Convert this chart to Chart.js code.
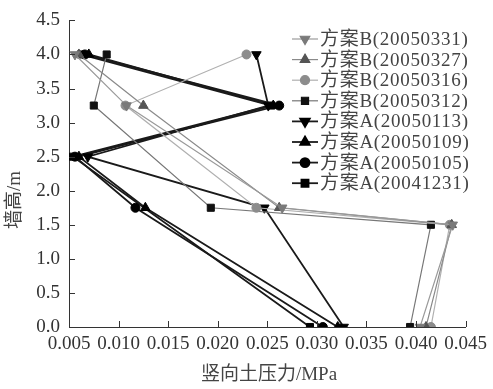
<!DOCTYPE html>
<html>
<head>
<meta charset="utf-8">
<script src="https://cdn.jsdelivr.net/npm/chart.js@4.4.0/dist/chart.umd.min.js"></script>
<style>
  html,body{margin:0;padding:0;background:#fff;}
  #wrap{width:493px;height:389px;position:relative;}
</style>
</head>
<body>
<div id="wrap"><canvas id="c" width="493" height="389"></canvas></div>
<script>
// heights (m) at which each series was measured
const heightsB = [4.0, 3.25, 1.75, 1.5, 0];
const heightsA = [4.0, 3.25, 2.5, 1.75, 0];
const heightsA1231 = [4.0, 3.25, 2.5, 0];

// vertical earth pressure (MPa)
const pB0331 = [0.0056, 0.0108, 0.0265, 0.0437, 0.0404];
const pB0327 = [0.0060, 0.0125, 0.0262, 0.0436, 0.0410];
const pB0316 = [0.0229, 0.0107, 0.0239, 0.0434, 0.0415];
const pB0312 = [0.0088, 0.0075, 0.0193, 0.0415, 0.0394];
const pA0113 = [0.0239, 0.0251, 0.0069, 0.0247, 0.0327];
const pA0109 = [0.0070, 0.0256, 0.0060, 0.0127, 0.0321];
const pA0105 = [0.0066, 0.0262, 0.0056, 0.0117, 0.0306];
const pA1231 = [0.0062, 0.0254, 0.0054, 0.0293];

const xTicks = [0.005, 0.010, 0.015, 0.020, 0.025, 0.030, 0.035, 0.040, 0.045];
const yTicks = [0, 0.5, 1.0, 1.5, 2.0, 2.5, 3.0, 3.5, 4.0, 4.5];

const FONT = '"Liberation Serif", "Times New Roman", "Noto Sans CJK SC", serif';

function pts(xs, ys){ return xs.map((x,i)=>({x, y: ys[i]})); }

function series(label, xs, ys, st){
  return Object.assign({
    label, data: pts(xs, ys), showLine: true, fill: false, tension: 0,
    pointRadius: 4.5, pointBorderWidth: 1, pointHoverRadius: 4.5
  }, st);
}

const datasets = [
  series('方案B(20050331)', pB0331, heightsB, {borderColor:'#9a9a9a', borderWidth:1.2, pointStyle:'triangle', rotation:180, pointBackgroundColor:'#7a7a7a', pointBorderColor:'#7a7a7a', pointRadius:5.5}),
  series('方案B(20050327)', pB0327, heightsB, {borderColor:'#8a8a8a', borderWidth:1.2, pointStyle:'triangle', pointBackgroundColor:'#555', pointBorderColor:'#555', pointRadius:5.5}),
  series('方案B(20050316)', pB0316, heightsB, {borderColor:'#b0b0b0', borderWidth:1.2, pointStyle:'circle', pointBackgroundColor:'#8c8c8c', pointBorderColor:'#8c8c8c', pointRadius:4.5}),
  series('方案B(20050312)', pB0312, heightsB, {borderColor:'#777', borderWidth:1.2, pointStyle:'rect', pointBackgroundColor:'#111', pointBorderColor:'#111', pointRadius:5}),
  series('方案A(20050113)', pA0113, heightsA, {borderColor:'#1a1a1a', borderWidth:1.8, pointStyle:'triangle', rotation:180, pointBackgroundColor:'#000', pointBorderColor:'#000', pointRadius:5.5}),
  series('方案A(20050109)', pA0109, heightsA, {borderColor:'#1a1a1a', borderWidth:1.8, pointStyle:'triangle', pointBackgroundColor:'#000', pointBorderColor:'#000', pointRadius:5.5}),
  series('方案A(20050105)', pA0105, heightsA, {borderColor:'#1a1a1a', borderWidth:1.8, pointStyle:'circle', pointBackgroundColor:'#000', pointBorderColor:'#000', pointRadius:4.5}),
  series('方案A(20041231)', pA1231, heightsA1231, {borderColor:'#1a1a1a', borderWidth:1.8, pointStyle:'rect', pointBackgroundColor:'#000', pointBorderColor:'#000', pointRadius:5})
];

// legend drawn by hand inside the plot, right side
const legendPlugin = {
  id: 'sideLegend',
  afterDatasetsDraw(chart){
    const ctx = chart.ctx;
    const x0 = 292, x1 = 318, top = 39, step = 20.6;
    ctx.save();
    chart.data.datasets.forEach((ds,i)=>{
      const y = top + i*step;
      ctx.strokeStyle = ds.borderColor; ctx.lineWidth = ds.borderWidth;
      ctx.beginPath(); ctx.moveTo(x0,y); ctx.lineTo(x1,y); ctx.stroke();
      ctx.fillStyle = ds.pointBackgroundColor; ctx.strokeStyle = ds.pointBorderColor;
      Chart.helpers.drawPoint(ctx, {pointStyle: ds.pointStyle, rotation: ds.rotation||0, radius: ds.pointRadius, borderWidth: 1}, (x0+x1)/2, y);
      ctx.fillStyle = '#444';
      ctx.font = '19px ' + FONT;
      ctx.letterSpacing = '0.7px';
      ctx.textBaseline = 'middle'; ctx.textAlign = 'left';
      ctx.fillText(ds.label, x1 + 2, y + 1);
    });
    ctx.restore();
  }
};

// inward tick marks + axis titles
const axisDeco = {
  id: 'axisDeco',
  afterDraw(chart){
    const ctx = chart.ctx, xs = chart.scales.x, ys = chart.scales.y, a = chart.chartArea;
    ctx.save();
    ctx.strokeStyle = '#333'; ctx.lineWidth = 1;
    ctx.beginPath();
    xTicks.forEach(v=>{ const px = Math.round(xs.getPixelForValue(v))+0.5; ctx.moveTo(px, a.bottom); ctx.lineTo(px, a.bottom-6); });
    yTicks.forEach(v=>{ const py = Math.round(ys.getPixelForValue(v))+0.5; ctx.moveTo(a.left, py); ctx.lineTo(a.left+6, py); });
    ctx.stroke();
    ctx.fillStyle = '#444';
    ctx.font = '19px ' + FONT;
    ctx.textAlign = 'center'; ctx.textBaseline = 'middle';
    ctx.fillText('竖向土压力/MPa', 269, 375);
    ctx.translate(15, 200); ctx.rotate(-Math.PI/2);
    ctx.fillText('墙高/m', 0, 0);
    ctx.restore();
  }
};

new Chart(document.getElementById('c'), {
  type: 'scatter',
  data: { datasets },
  plugins: [legendPlugin, axisDeco],
  options: {
    responsive: false, animation: false, devicePixelRatio: 1,
    layout: { padding: { top: 16, right: 26, left: 0, bottom: 0 } },
    plugins: { legend: { display: false }, tooltip: { enabled: false } },
    scales: {
      x: {
        type: 'linear', min: 0.005, max: 0.045,
        afterBuildTicks(s){ s.ticks = xTicks.map(v=>({value:v})); },
        afterFit(s){ s.height = 62; },
        grid: { display: true, drawOnChartArea: false, drawTicks: false },
        border: { display: true, color: '#333', width: 1 },
        ticks: { padding: 6, color: '#333', font: { family: FONT, size: 19 }, maxRotation: 0, autoSkip: false,
          callback: v => Number(v).toFixed(3) }
      },
      y: {
        type: 'linear', min: 0, max: 4.5,
        afterBuildTicks(s){ s.ticks = yTicks.map(v=>({value:v})); },
        afterFit(s){ s.width = 69; },
        grid: { display: true, drawOnChartArea: false, drawTicks: false },
        border: { display: true, color: '#333', width: 1 },
        ticks: { padding: 9, color: '#333', font: { family: FONT, size: 19 },
          callback: v => Number(v).toFixed(1) }
      }
    }
  }
});
</script>
</body>
</html>
